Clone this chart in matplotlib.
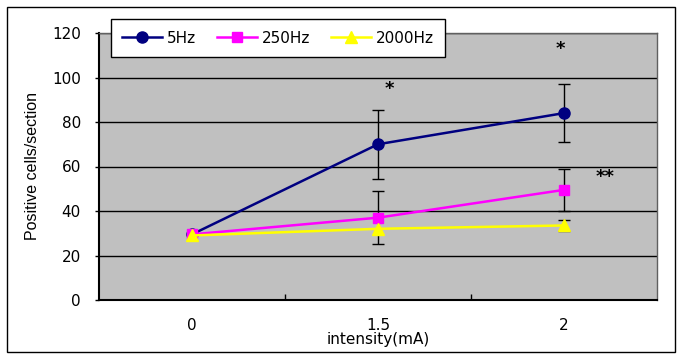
import matplotlib
matplotlib.use("Agg")
import matplotlib.pyplot as plt
from matplotlib.patches import Rectangle

plt.rcParams['font.family'] = ['DejaVu Sans']

categories = ["0", "1.5", "2"]
series_names = ["5Hz", "250Hz", "2000Hz"]
vals_5hz = [29.5, 70.0, 84.0]
err_5hz = [0.0, 15.6, 13.2]
vals_250hz = [29.5, 37.0, 49.5]
err_250hz = [0.0, 12.0, 9.3]
vals_2000hz = [29.0, 32.0, 33.5]
err_2000hz = [0.0, 0.0, 2.5]
yticks = [0, 20, 40, 60, 80, 100, 120]
# significance marks: (category index offset, y, text)
sig_x = [1.06, 1.98, 2.22]
sig_y = [95, 113, 55.5]
sig_text = ["*", "*", "**"]

colors = ["#000080", "#FF00FF", "#FFFF00"]
markers = ["o", "s", "^"]
msizes = [8, 7.5, 9]

fig = plt.figure(figsize=(6.8, 3.58), dpi=100)
ax = fig.add_axes([99/680, 1-300/358, 558/680, 267/358])
ax.set_facecolor("#C0C0C0")

x = list(range(len(categories)))
all_vals = [vals_5hz, vals_250hz, vals_2000hz]
all_errs = [err_5hz, err_250hz, err_2000hz]

for name, v, e, c, m, ms in zip(series_names, all_vals, all_errs, colors, markers, msizes):
    ex = [xi for xi, ei in zip(x, e) if ei > 0]
    ev = [vi for vi, ei in zip(v, e) if ei > 0]
    ee = [ei for ei in e if ei > 0]
    ax.errorbar(ex, ev, yerr=ee, fmt='none', ecolor='black', elinewidth=1.0,
                capsize=4, capthick=1.0, zorder=3)
    ax.plot(x, v, color=c, marker=m, markersize=ms, markeredgecolor=c,
            linewidth=1.8, label=name, zorder=4)

for sx, sy, st in zip(sig_x, sig_y, sig_text):
    ax.text(sx, sy, st, ha='center', va='center', fontsize=13, fontweight='bold', zorder=5)

ax.set_xlim(-0.5, 2.5)
ax.set_ylim(0, 120)
ax.set_yticks(yticks)
ax.set_yticklabels([str(t) for t in yticks], fontsize=11)
ax.yaxis.grid(True, color='black', linewidth=1.0)
ax.set_axisbelow(True)
ax.tick_params(axis='y', length=3, direction='out', pad=10, width=1)

ax.set_xticks(x)
ax.set_xticklabels(categories, fontsize=11)
ax.tick_params(axis='x', which='major', length=0, pad=13)
ax.set_xticks([0.5, 1.5], minor=True)
ax.tick_params(axis='x', which='minor', length=4, direction='in', width=1)

for s in ['left', 'bottom']:
    ax.spines[s].set_color('black')
    ax.spines[s].set_linewidth(1.5)
for s in ['top', 'right']:
    ax.spines[s].set_color('#606060')
    ax.spines[s].set_linewidth(1.0)

ax.set_ylabel("Positive cells/section", fontsize=11.5, family=['Liberation Sans', 'DejaVu Sans'])
ax.yaxis.set_label_coords(-0.105, 0.5)
ax.set_xlabel("intensity(mA)", fontsize=11)
ax.xaxis.set_label_coords(0.5, -0.12)

leg = fig.legend(loc='lower left', bbox_to_anchor=(111/680, 1-57/358, (445-111)/680, 44/358),
                 mode='expand', ncol=3, fontsize=11, frameon=True, fancybox=False,
                 framealpha=1, edgecolor='black', handlelength=2.6, handletextpad=0.3,
                 columnspacing=0.8, borderpad=0.75, borderaxespad=0)
leg.get_frame().set_linewidth(1.0)
leg.set_zorder(10)

fig.patches.append(Rectangle((7/680, 1-352/358), 668/680, 345/358, transform=fig.transFigure,
                             fill=False, edgecolor='black', linewidth=1.0))

fig.savefig("out.png", dpi=100)
